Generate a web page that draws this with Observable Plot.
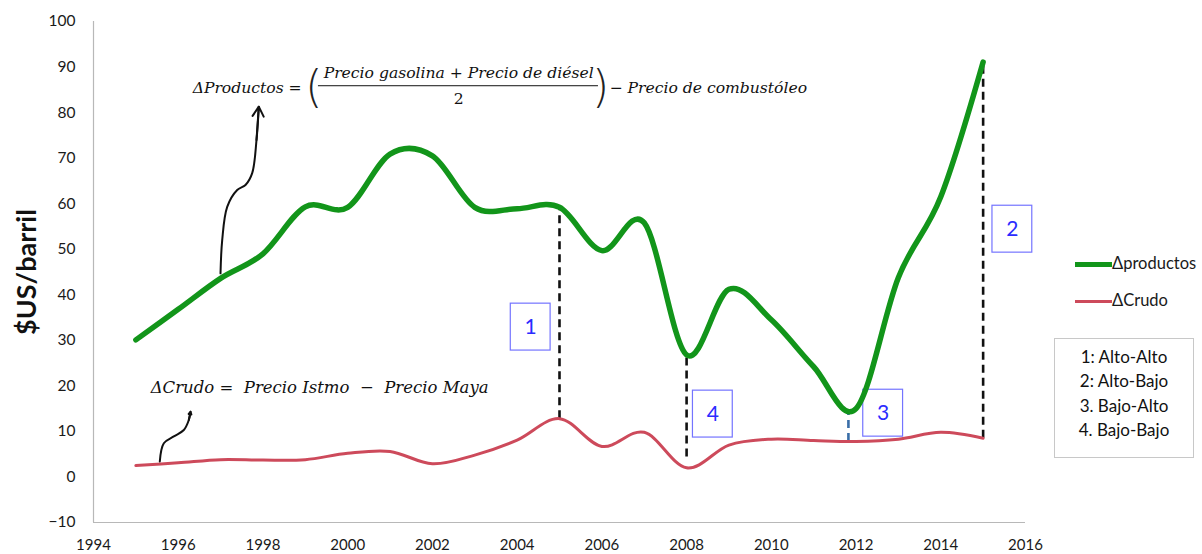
<!DOCTYPE html>
<html>
<head>
<meta charset="utf-8">
<script src="https://cdn.jsdelivr.net/npm/d3@7"></script>
<script src="https://cdn.jsdelivr.net/npm/@observablehq/plot@0.6"></script>
<style>
  body { margin: 0; background: #fff; }
  #wrap { position: relative; width: 1202px; height: 554px; font-family: Lato, "Open Sans", sans-serif; }
  .leg { position: absolute; font-size: 16.5px; color: #1a1a1a; }
  .sw { position: absolute; }
  #quad { position: absolute; left: 1054px; top: 338px; width: 140px; height: 120px; border: 1px solid #c8c8c8;
          font-size: 17px; color: #111; text-align: center; line-height: 24.4px; padding-top: 6px; box-sizing: border-box; }
</style>
</head>
<body>
<div id="wrap"></div>
<script>
// ---- data ----
const years     = [1995, 1996, 1997, 1998, 1999, 2000, 2001, 2002, 2003, 2004, 2005, 2006, 2007, 2008, 2009, 2010, 2011, 2012, 2013, 2014, 2015];
const productos = [30.1, 36.8, 43.6, 49.0, 59.3, 59.2, 70.9, 70.5, 59.2, 58.9, 59.2, 49.7, 55.8, 26.8, 41.2, 34.5, 24.2, 15.0, 43.8, 61.5, 91.1];
const crudo     = [2.5, 3.1, 3.8, 3.7, 3.8, 5.2, 5.6, 2.9, 4.8, 8.1, 12.8, 6.7, 9.8, 2.0, 7.0, 8.3, 8.0, 7.8, 8.3, 9.8, 8.5];
const seriesNames = ["Δproductos", "ΔCrudo"];
const xTicks = [1994, 1996, 1998, 2000, 2002, 2004, 2006, 2008, 2010, 2012, 2014, 2016];
const yTicks = [-10, 0, 10, 20, 30, 40, 50, 60, 70, 80, 90, 100];
const yLabel = "$US/barril";

// quadrant markers (dashed verticals) and their numbered boxes
const markerYear = [2005, 2008, 2011.82, 2015];
const markerLow  = [12.8, 4.4, 7.8, 8.5];
const markerHigh = [59.2, 26.8, 14.3, 91.1];
const markerKind = ["black", "black", "blue", "black"];
const boxText  = ["1", "4", "3", "2"];
const boxYear  = [2004.32, 2008.62, 2012.64, 2015.69];
const boxValue = [32.9, 13.8, 14.0, 54.4];
const quadrantLabels = ["1: Alto-Alto", "2: Alto-Bajo", "3. Bajo-Alto", "4. Bajo-Bajo"];

// formula annotations
const formulaProd = {
  lhs: "ΔProductos =", lhsYear: 1996.34, lhsValue: 85.4,
  num: "Precio gasolina + Precio de diésel", numYear: 2002.62, numValue: 88.6,
  den: "2", denValue: 83.0,
  barFrom: 1999.31, barTo: 2005.92, barValue: 85.9,
  openYear: 1999.2, closeYear: 2005.97, parenValue: 85.5,
  rhs: "− Precio de combustóleo", rhsYear: 2006.18
};
const formulaCrudo = { text: "ΔCrudo =  Precio Istmo  −  Precio Maya", year: 1995.35, value: 19.5 };
// hand-drawn arrows (path points, data units)
const arrowProdYear  = [1996.998, 1997.038, 1997.156, 1997.392, 1997.588, 1997.746, 1997.848, 1997.902];
const arrowProdValue = [44.7, 52.0, 59.3, 63.0, 64.1, 66.7, 74.0, 81.3];
const arrowCrudoYear  = [1995.565, 1995.66, 1995.896, 1996.132, 1996.25, 1996.29];
const arrowCrudoValue = [3.4, 7.4, 8.9, 10.3, 12.5, 14.3];

// ---- build tables ----
const green = "#12951a", red = "#cd4a5b";
const prodRows = years.map((y, i) => ({year: y, value: productos[i]}));
const crudoRows = years.map((y, i) => ({year: y, value: crudo[i]}));
const markers = markerYear.map((y, i) => ({year: y, lo: markerLow[i], hi: markerHigh[i], kind: markerKind[i]}));
const boxes = boxText.map((t, i) => ({t, year: boxYear[i], value: boxValue[i]}));
const arrowProd = arrowProdYear.map((y, i) => ({year: y, value: arrowProdValue[i]}));
const arrowCrudo = arrowCrudoYear.map((y, i) => ({year: y, value: arrowCrudoValue[i]}));
const tail = a => [{x1: a[a.length - 2].year, y1: a[a.length - 2].value, x2: a[a.length - 1].year, y2: a[a.length - 1].value}];

const serif = "'DejaVu Serif', serif";
const fSize = 15.6;
const chart = Plot.plot({
  width: 1202, height: 554,
  marginLeft: 93, marginRight: 177, marginTop: 21, marginBottom: 32,
  style: {fontFamily: "Lato, sans-serif", fontSize: "15px", color: "#1a1a1a", background: "white"},
  x: {domain: [1994, 2016], label: null},
  y: {domain: [-10, 100], label: null},
  marks: [
    Plot.axisX({ticks: xTicks, tickFormat: d => String(d), tickSize: 0, tickPadding: 17, label: null, fontSize: 15}),
    Plot.axisY({ticks: yTicks, tickSize: 0, tickPadding: 18, label: null, fontSize: 15.5}),
    Plot.ruleX([1994], {stroke: "#b8b8b8", strokeWidth: 1.2}),
    Plot.ruleY([-10], {stroke: "#b8b8b8", strokeWidth: 1.2}),
    Plot.rect(boxes, {x1: d => d.year - 0.47, x2: d => d.year + 0.47, y1: d => d.value - 5.15, y2: d => d.value + 5.15,
                      fill: "white", stroke: "#7474ff", strokeWidth: 1.2}),
    Plot.text(boxes, {x: "year", y: "value", text: "t", fill: "#2b2bff", fontSize: 21}),
    Plot.ruleX(markers, {x: "year", y1: "lo", y2: "hi",
                         stroke: d => d.kind === "blue" ? "#3a6ea8" : "#111", strokeWidth: 2.6, strokeDasharray: "8,5"}),
    Plot.line(crudoRows, {x: "year", y: "value", stroke: red, strokeWidth: 3, curve: "cardinal"}),
    Plot.line(prodRows, {x: "year", y: "value", stroke: green, strokeWidth: 5.5, curve: "cardinal"}),
    // arrows
    Plot.line(arrowProd, {x: "year", y: "value", stroke: "#111", strokeWidth: 2, curve: "catmull-rom"}),
    Plot.arrow(tail(arrowProd), {x1: "x1", y1: "y1", x2: "x2", y2: "y2", stroke: "#111", strokeWidth: 2, headLength: 11}),
    Plot.line(arrowCrudo, {x: "year", y: "value", stroke: "#111", strokeWidth: 2, curve: "catmull-rom"}),
    Plot.arrow(tail(arrowCrudo), {x1: "x1", y1: "y1", x2: "x2", y2: "y2", stroke: "#111", strokeWidth: 2, headLength: 11}),
    // formulas
    Plot.text([formulaProd], {x: "lhsYear", y: "lhsValue", text: "lhs", textAnchor: "start", fontFamily: serif, fontStyle: "italic", fontSize: fSize, fill: "#111"}),
    Plot.text([formulaProd], {x: "numYear", y: "numValue", text: "num", fontFamily: serif, fontStyle: "italic", fontSize: fSize, fill: "#111"}),
    Plot.text([formulaProd], {x: "numYear", y: "denValue", text: "den", fontFamily: serif, fontSize: fSize, fill: "#111"}),
    Plot.ruleY([formulaProd], {y: "barValue", x1: "barFrom", x2: "barTo", stroke: "#111", strokeWidth: 1}),
    Plot.text([formulaProd], {x: "openYear", y: "parenValue", text: () => "(", fontFamily: "'DejaVu Sans', sans-serif", fontWeight: 200, fontSize: 44, fill: "#222"}),
    Plot.text([formulaProd], {x: "closeYear", y: "parenValue", text: () => ")", fontFamily: "'DejaVu Sans', sans-serif", fontWeight: 200, fontSize: 44, fill: "#222"}),
    Plot.text([formulaProd], {x: "rhsYear", y: "lhsValue", text: "rhs", textAnchor: "start", fontFamily: serif, fontStyle: "italic", fontSize: fSize, fill: "#111"}),
    Plot.text([formulaCrudo], {x: "year", y: "value", text: "text", textAnchor: "start", fontFamily: serif, fontStyle: "italic", fontSize: 16.5, fill: "#111"}),
    // y axis title
    Plot.text([yLabel], {frameAnchor: "left", text: d => d, rotate: -90, textAnchor: "middle", dx: -66, fontSize: 27, fontWeight: "bold", fill: "#111"})
  ]
});

const wrap = document.getElementById("wrap");
wrap.appendChild(chart);

// legend (HTML overlay)
const legendColors = [green, red];
const legendWidths = [5, 3];
seriesNames.forEach((name, i) => {
  const top = 264 + i * 37;
  const sw = document.createElement("div");
  sw.className = "sw";
  sw.style.cssText = `left:1075px;top:${top - legendWidths[i] / 2}px;width:37px;height:${legendWidths[i]}px;background:${legendColors[i]};`;
  wrap.appendChild(sw);
  const t = document.createElement("div");
  t.className = "leg";
  t.style.cssText = `left:1112px;top:${top - 11}px;`;
  t.textContent = name;
  wrap.appendChild(t);
});
const quad = document.createElement("div");
quad.id = "quad";
quad.innerHTML = quadrantLabels.map(s => `<div>${s}</div>`).join("");
wrap.appendChild(quad);
</script>
</body>
</html>
